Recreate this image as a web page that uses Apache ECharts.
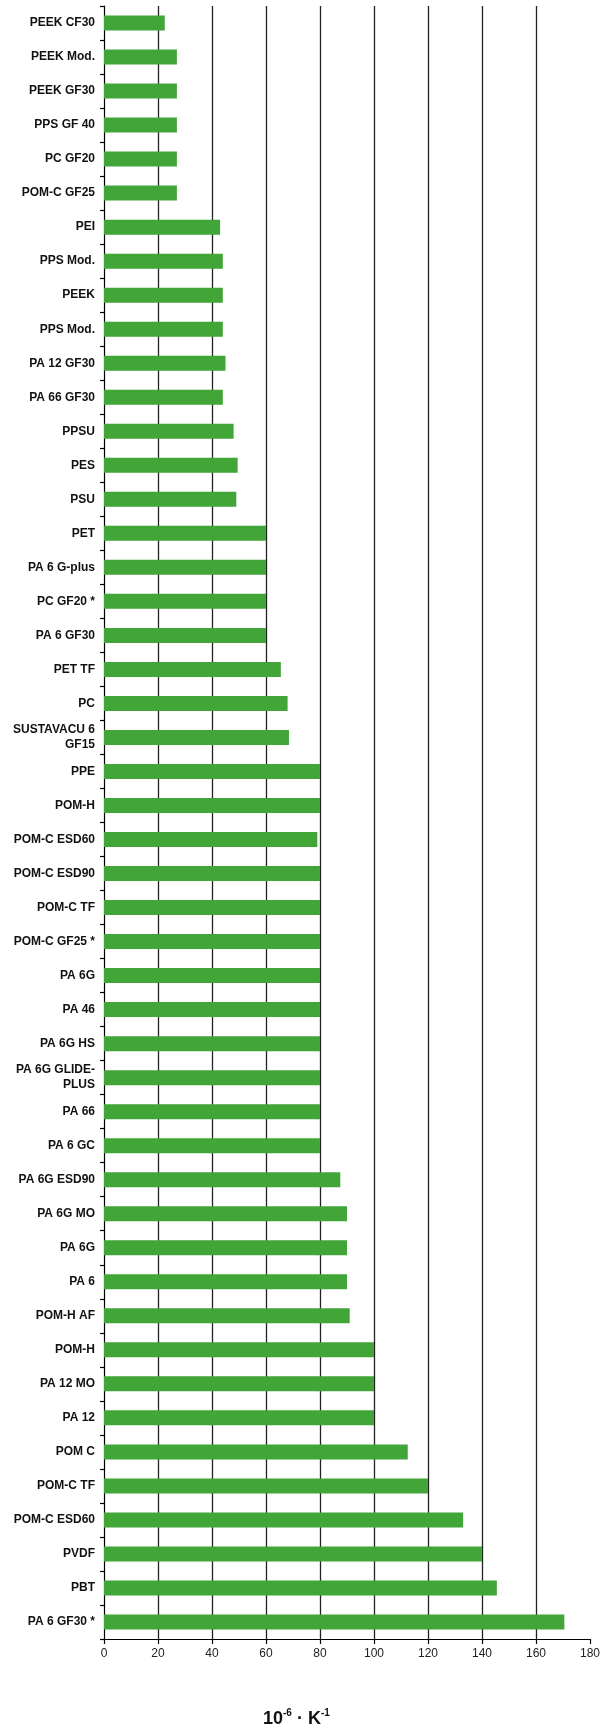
<!DOCTYPE html>
<html>
<head>
<meta charset="utf-8">
<script src="https://cdn.jsdelivr.net/npm/echarts@6/dist/echarts.min.js"></script>
<style>
  html, body { margin: 0; padding: 0; background: #fff; }
  #chart { width: 612px; height: 1731px; }
</style>
</head>
<body>
<div id="chart"></div>
<script>
// materials, top to bottom as in the picture
const materials = [
  'PEEK CF30', 'PEEK Mod.', 'PEEK GF30', 'PPS GF 40', 'PC GF20', 'POM-C GF25',
  'PEI', 'PPS Mod.', 'PEEK', 'PPS Mod.', 'PA 12 GF30', 'PA 66 GF30',
  'PPSU', 'PES', 'PSU', 'PET', 'PA 6 G-plus', 'PC GF20 *',
  'PA 6 GF30', 'PET TF', 'PC', 'SUSTAVACU 6\nGF15', 'PPE', 'POM-H',
  'POM-C ESD60', 'POM-C ESD90', 'POM-C TF', 'POM-C GF25 *', 'PA 6G', 'PA 46',
  'PA 6G HS', 'PA 6G GLIDE-\nPLUS', 'PA 66', 'PA 6 GC', 'PA 6G ESD90', 'PA 6G MO',
  'PA 6G', 'PA 6', 'POM-H AF', 'POM-H', 'PA 12 MO', 'PA 12',
  'POM C', 'POM-C TF', 'POM-C ESD60', 'PVDF', 'PBT', 'PA 6 GF30 *'
]

// thermal expansion coefficient, 10^-6 K^-1
const expansion = [
  22.5, 27, 27, 27, 27, 27,
  43, 44, 44, 44, 45, 44,
  48, 49.5, 49, 60, 60, 60,
  60, 65.5, 68, 68.5, 80, 80,
  79, 80, 80, 80, 80, 80,
  80, 80, 80, 80, 87.5, 90,
  90, 90, 91, 100, 100, 100,
  112.5, 120, 133, 140, 145.5, 170.5
]

const xTicks = { min: 0, max: 180, interval: 20 }

const chart = echarts.init(document.getElementById('chart'))

const option = {
  animation: false,
  title: {
    text: '{a|10}{s|-6}{a| · K}{s|-1}',
    left: 258,
    top: 1703,
    textStyle: {
      rich: {
        a: {
          fontFamily: 'Liberation Sans',
          fontWeight: 'bold',
          fontSize: 18,
          lineHeight: 22,
          color: '#111'
        },
        s: {
          fontFamily: 'Liberation Sans',
          fontWeight: 'bold',
          fontSize: 10,
          lineHeight: 22,
          verticalAlign: 'top',
          color: '#111'
        }
      }
    }
  },
  grid: {
    left: 104,
    right: 22,
    top: 6,
    bottom: 92
  },
  xAxis: {
    type: 'value',
    min: xTicks.min,
    max: xTicks.max,
    interval: xTicks.interval,
    axisLine: { show: true, lineStyle: { color: '#000', width: 1.2 } },
    axisTick: { show: true, length: 5, lineStyle: { color: '#000', width: 1.2 } },
    axisLabel: {
      color: '#222',
      fontFamily: 'Liberation Sans',
      fontSize: 12,
      margin: 9
    },
    splitLine: {
      show: true,
      showMinLine: false,
      showMaxLine: false,
      lineStyle: { color: '#222', width: 1.3 }
    }
  },
  yAxis: {
    type: 'category',
    inverse: true,
    data: materials,
    axisLine: { show: true, lineStyle: { color: '#000', width: 1.2 } },
    axisTick: { show: true, length: 4, lineStyle: { color: '#000', width: 1.2 } },
    axisLabel: {
      color: '#111',
      fontFamily: 'Liberation Sans',
      fontWeight: 'bold',
      fontSize: 12,
      lineHeight: 15,
      margin: 9,
      interval: 0
    }
  },
  series: [
    {
      type: 'bar',
      data: expansion,
      barWidth: 15,
      itemStyle: { color: '#41a537' }
    }
  ]
}

chart.setOption(option)
</script>
</body>
</html>
